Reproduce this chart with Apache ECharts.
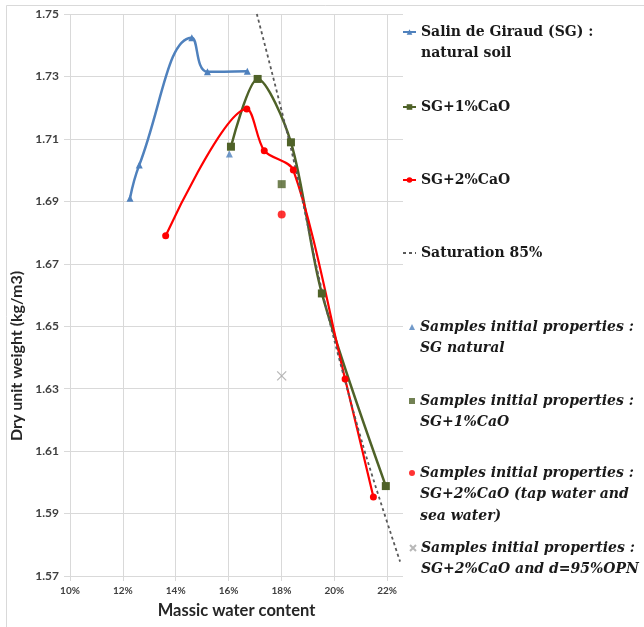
<!DOCTYPE html>
<html>
<head>
<meta charset="utf-8">
<script src="https://cdn.jsdelivr.net/npm/echarts@6/dist/echarts.min.js"></script>
<style>html,body{margin:0;padding:0;background:#fff;}#c{width:644px;height:627px;}</style>
</head>
<body>
<div id="c"></div>
<script>
// ---- data (massic water content as fraction, dry unit weight) ----
var waterNatural = [0.1227, 0.1262, 0.1461, 0.1520, 0.1671];
var densNatural  = [1.6910, 1.7016, 1.7424, 1.7315, 1.7317];

var waterCaO1 = [0.1609, 0.1710, 0.1836, 0.1953, 0.2195];
var densCaO1  = [1.7075, 1.7292, 1.7089, 1.6605, 1.5988];

var waterCaO2 = [0.1362, 0.1669, 0.1735, 0.1845, 0.2041, 0.2148];
var densCaO2  = [1.6790, 1.7196, 1.7062, 1.7000, 1.6331, 1.5953];

var waterSat = [0.1707, 0.1840, 0.1959, 0.2110, 0.2249];
var densSat  = [1.7500, 1.7055, 1.6594, 1.6114, 1.5746];

var waterSampleNatural = [0.1603];
var densSampleNatural  = [1.7052];
var waterSampleCaO1 = [0.1801];
var densSampleCaO1  = [1.6955];
var waterSampleCaO2 = [0.1801];
var densSampleCaO2  = [1.6858];
var waterSampleOPN = [0.1801];
var densSampleOPN  = [1.6341];

var seriesNames = [
  'Salin de Giraud (SG) :\nnatural soil',
  'SG+1%CaO',
  'SG+2%CaO',
  'Saturation 85%',
  'Samples initial properties :\nSG natural',
  'Samples initial properties :\nSG+1%CaO',
  'Samples initial properties :\nSG+2%CaO (tap water and\nsea water)',
  'Samples initial properties :\nSG+2%CaO and d=95%OPN'
];
var xTicks = [0.10, 0.12, 0.14, 0.16, 0.18, 0.20, 0.22];
var yTicks = [1.57, 1.59, 1.61, 1.63, 1.65, 1.67, 1.69, 1.71, 1.73, 1.75];

function pairs(xs, ys) { return xs.map(function (x, i) { return [x, ys[i]]; }); }

var BLUE = '#4F81BD', GREEN = '#4F6228', RED = '#FF0000', GREY = '#A6A6A6';
var LH = 21.5;
var legendTops = [32, 107, 180, 253, 327, 401, 473, 548];

var legends = seriesNames.map(function (name, i) {
  var lines = name.split('\n').length;
  var blanks = new Array(lines).join('\n');
  var isScatter = i >= 4;
  var ts = { fontFamily: 'DejaVu Serif', fontWeight: 'bold', fontSize: 14, color: '#1a1a1a', lineHeight: LH };
  if (isScatter) ts.fontStyle = 'italic';
  var item = { name: name };
  if (i === 3) item.itemStyle = { color: 'rgba(0,0,0,0)', borderColor: 'rgba(0,0,0,0)', borderWidth: 0 };
  return {
    data: [item],
    formatter: function (n) { return blanks + n; },
    left: isScatter ? 409 : 402,
    top: legendTops[i] - (lines - 1) * LH - LH / 2,
    padding: 0,
    itemWidth: isScatter ? 6 : 13,
    itemHeight: isScatter ? 6 : 7,
    selectedMode: false, textStyle: ts
  };
});

var chart = echarts.init(document.getElementById('c'), null, { renderer: 'canvas' });
chart.setOption({
  animation: false,
  backgroundColor: '#fff',
  grid: { left: 70, right: 241, top: 14, bottom: 51, containLabel: false },
  legend: legends,
  graphic: [{ type: 'rect', left: 4, top: 3, silent: true, z: -10,
    shape: { width: 700, height: 700 }, style: { fill: 'none', stroke: '#D9D9D9', lineWidth: 1 } }],
  xAxis: {
    type: 'value', min: xTicks[0], max: 0.226, interval: 0.02,
    name: 'Massic water content', nameLocation: 'middle', nameGap: 26,
    nameTextStyle: { fontFamily: 'Lato', fontWeight: 'bold', fontSize: 16.5, color: '#262626' },
    axisLine: { show: false },
    axisTick: { show: true, length: 5, lineStyle: { color: '#D9D9D9' } },
    axisLabel: { fontFamily: 'Lato', fontWeight: 'bold', fontSize: 10, color: '#404040', margin: 10,
      showMaxLabel: false,
      formatter: function (v) {
        for (var i = 0; i < xTicks.length; i++) if (Math.abs(v - xTicks[i]) < 1e-6) return Math.round(v * 100) + '%';
        return '';
      } },
    splitLine: { show: true, lineStyle: { color: ['#D9D9D9','#D9D9D9','#D9D9D9','#D9D9D9','#D9D9D9','#D9D9D9','#D9D9D9','rgba(0,0,0,0)'], width: 1 } }
  },
  yAxis: {
    type: 'value', min: yTicks[0], max: yTicks[yTicks.length - 1], interval: 0.02,
    name: 'Dry unit weight (kg/m3)', nameLocation: 'middle', nameGap: 41,
    nameTextStyle: { fontFamily: 'Lato', fontWeight: 'bold', fontSize: 16, color: '#262626', padding: [0, 122, 0, 0] },
    axisLine: { show: false },
    axisTick: { show: true, length: 6, lineStyle: { color: '#D9D9D9' } },
    axisLabel: { fontFamily: 'Lato', fontWeight: 'bold', fontSize: 12, color: '#404040', margin: 11,
      formatter: function (v) { return v.toFixed(2); } },
    splitLine: { show: true, lineStyle: { color: '#D9D9D9', width: 1 } }
  },
  series: [
    { name: seriesNames[0], type: 'line', data: pairs(waterNatural, densNatural), smooth: 0.45,
      symbol: 'triangle', symbolSize: 7, lineStyle: { color: BLUE, width: 2.5 }, itemStyle: { color: BLUE } },
    { name: seriesNames[1], type: 'line', data: pairs(waterCaO1, densCaO1), smooth: 0.3,
      symbol: 'rect', symbolSize: 8, lineStyle: { color: GREEN, width: 2.5 }, itemStyle: { color: GREEN } },
    { name: seriesNames[2], type: 'line', data: pairs(waterCaO2, densCaO2), smooth: 0.3,
      symbol: 'circle', symbolSize: 7, lineStyle: { color: RED, width: 2.2 }, itemStyle: { color: RED } },
    { name: seriesNames[3], type: 'line', data: pairs(waterSat, densSat), smooth: 0.3, symbol: 'none',
      lineStyle: { color: '#595959', width: 1.8, type: [3, 3] }, itemStyle: { color: '#595959' } },
    { name: seriesNames[4], type: 'scatter', data: pairs(waterSampleNatural, densSampleNatural),
      symbol: 'triangle', symbolSize: 7, itemStyle: { color: BLUE } },
    { name: seriesNames[5], type: 'scatter', data: pairs(waterSampleCaO1, densSampleCaO1),
      symbol: 'rect', symbolSize: 8, itemStyle: { color: GREEN } },
    { name: seriesNames[6], type: 'scatter', data: pairs(waterSampleCaO2, densSampleCaO2),
      symbol: 'circle', symbolSize: 8, itemStyle: { color: RED } },
    { name: seriesNames[7], type: 'scatter', data: pairs(waterSampleOPN, densSampleOPN),
      symbol: 'path://M0,0L10,10M10,0L0,10', symbolSize: 9,
      itemStyle: { color: GREY, borderColor: GREY, borderWidth: 1.3 } }
  ]
});
</script>
</body>
</html>
